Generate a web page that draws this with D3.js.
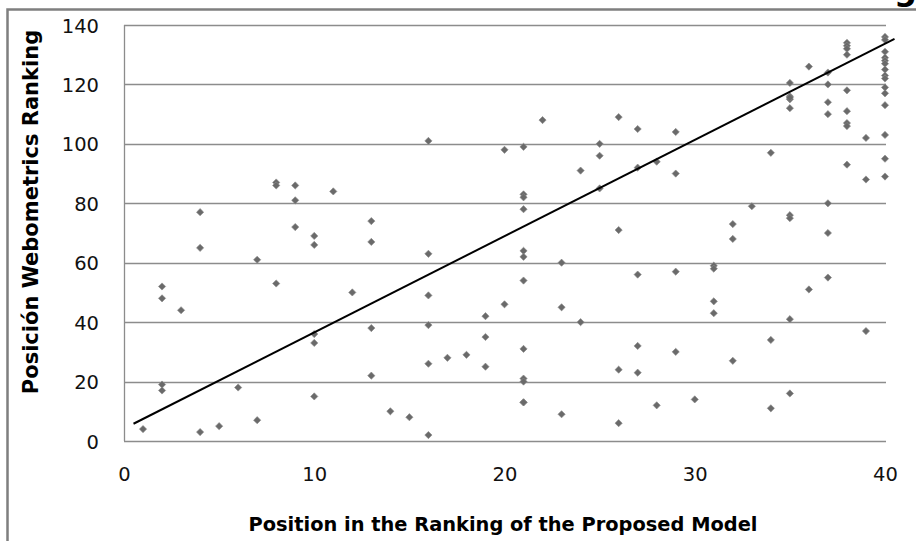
<!DOCTYPE html>
<meta charset="utf-8">
<title>Webometrics vs Proposed Model</title>
<style>
body { margin: 0; background: #fff; }
text { font-family: "DejaVu Sans", sans-serif; }
</style>
<script src="https://d3js.org/d3.v7.min.js"></script>
<div id="chart"></div>
<script>

// position in the proposed model ranking (x) and webometrics position (y)
var modelPos = [
  1, 2, 2, 2, 2, 3, 4, 4, 4, 5, 6, 7, 7, 8, 8, 8, 9, 9, 9,
  10, 10, 10, 10, 10, 11, 12, 13, 13, 13, 13, 14, 15,
  16, 16, 16, 16, 16, 16, 17, 18, 19, 19, 19,
  20, 20, 21, 21, 21, 21, 21, 21, 21, 21, 21, 21, 21, 21,
  22, 23, 23, 23, 24, 24, 25, 25, 25, 26, 26, 26, 26,
  27, 27, 27, 27, 27, 28, 28, 29, 29, 29, 29,
  30, 31, 31, 31, 31, 32, 32, 32, 33, 34, 34, 34,
  35, 35, 35, 35, 35, 35, 35, 35, 35, 36, 36,
  37, 37, 37, 37, 37, 37, 37,
  38, 38, 38, 38, 38, 38, 38, 38, 38, 39, 39, 39,
  40, 40, 40, 40, 40, 40, 40, 40, 40, 40, 40, 40, 40, 40, 40
];
var webPos = [
  4, 52, 48, 19, 17, 44, 77, 65, 3, 5, 18, 61, 7, 87, 86, 53, 86, 81, 72,
  69, 66, 36, 33, 15, 84, 50, 74, 67, 38, 22, 10, 8,
  101, 63, 49, 39, 26, 2, 28, 29, 42, 35, 25,
  98, 46, 99, 83, 82, 78, 64, 62, 54, 31, 21, 20, 13, 13,
  108, 60, 45, 9, 91, 40, 100, 96, 85, 109, 71, 24, 6,
  105, 92, 56, 32, 23, 94, 12, 104, 90, 57, 30,
  14, 59, 58, 47, 43, 73, 68, 27, 79, 97, 34, 11,
  120.5, 116, 115, 112, 76, 75, 41, 16, 115.5, 126, 51,
  124, 120, 114, 110, 80, 70, 55,
  134, 133, 132, 130, 118, 111, 107, 106, 93, 102, 88, 37,
  136, 135, 131, 129, 128, 127, 125, 123, 122, 119, 117, 113, 103, 95, 89
];

// trend line end points
var trendX = [0.5, 40.5];
var trendY = [5.8, 135.3];

var xTicks = [0, 10, 20, 30, 40];
var yTicks = [0, 20, 40, 60, 80, 100, 120, 140];

var width = 916,
    height = 541,
    margin = {top: 25, right: 31, bottom: 100, left: 124};

var svg = d3.select("#chart").append("svg")
    .attr("width", width)
    .attr("height", height)
    .style("display", "block");

// outer chart frame (runs off the right and bottom edges)
svg.append("path")
    .attr("d", "M7.5," + (height + 5) + "V9.5H" + (width + 5))
    .attr("fill", "none")
    .attr("stroke", "#7f7f7f")
    .attr("stroke-width", 2.5);

// clipped title, only the descender shows at the top
svg.append("text")
    .attr("x", 917)
    .attr("y", 0)
    .attr("text-anchor", "end")
    .style("font-weight", "bold")
    .style("font-size", "32px")
    .text("Ranking");

var x = d3.scaleLinear()
    .domain([0, 40])
    .range([margin.left, width - margin.right]);

var y = d3.scaleLinear()
    .domain([0, 140])
    .range([height - margin.bottom, margin.top]);

// gridlines
svg.append("g")
    .selectAll("line")
    .data(yTicks)
    .enter().append("line")
    .attr("x1", x(0))
    .attr("x2", x(40) + 1)
    .attr("y1", function(d) { return Math.round(y(d)) + 0.5; })
    .attr("y2", function(d) { return Math.round(y(d)) + 0.5; })
    .attr("stroke", "#8c8c8c")
    .attr("stroke-width", 1.3);

// y axis line
svg.append("line")
    .attr("x1", x(0) + 0.5)
    .attr("x2", x(0) + 0.5)
    .attr("y1", y(140))
    .attr("y2", y(0))
    .attr("stroke", "#8c8c8c")
    .attr("stroke-width", 1.3);

var xAxis = svg.append("g")
    .attr("transform", "translate(0," + (y(0) + 40) + ")")
    .call(d3.axisBottom(x).tickValues(xTicks).tickSize(0).tickPadding(0));
xAxis.select(".domain").remove();
xAxis.selectAll("text")
    .attr("dy", 0)
    .style("font-size", "19.5px")
    .attr("fill", "#111");

var yAxis = svg.append("g")
    .attr("transform", "translate(" + (x(0) - 25) + ",0)")
    .call(d3.axisLeft(y).tickValues(yTicks).tickSize(0).tickPadding(0));
yAxis.select(".domain").remove();
yAxis.selectAll("text")
    .attr("dy", "0.36em")
    .style("font-size", "19.5px")
    .attr("fill", "#111");

// points
var pts = d3.range(modelPos.length).map(function(i) {
  return {x: modelPos[i], y: webPos[i]};
});
var diamond = d3.symbol().type(d3.symbolSquare).size(26);
svg.append("g")
    .selectAll("path")
    .data(pts)
    .enter().append("path")
    .attr("d", diamond)
    .attr("transform", function(d) {
      return "translate(" + x(d.x) + "," + y(d.y) + ") rotate(45)";
    })
    .attr("fill", "#6a6a6a")
    .attr("stroke", "#8a8a8a")
    .attr("stroke-width", 0.6);

// trend line
var trend = d3.line()
    .x(function(d) { return x(d[0]); })
    .y(function(d) { return y(d[1]); });
svg.append("path")
    .datum(d3.zip(trendX, trendY))
    .attr("d", trend)
    .attr("fill", "none")
    .attr("stroke", "#000")
    .attr("stroke-width", 2);

// axis titles
svg.append("text")
    .attr("x", 503)
    .attr("y", 531)
    .attr("text-anchor", "middle")
    .style("font-weight", "bold")
    .style("font-size", "19.4px")
    .text("Position in the Ranking of the Proposed Model");

svg.append("text")
    .attr("transform", "translate(38,212) rotate(-90)")
    .attr("text-anchor", "middle")
    .style("font-weight", "bold")
    .style("font-size", "21px")
    .text("Posición Webometrics Ranking");

</script>
